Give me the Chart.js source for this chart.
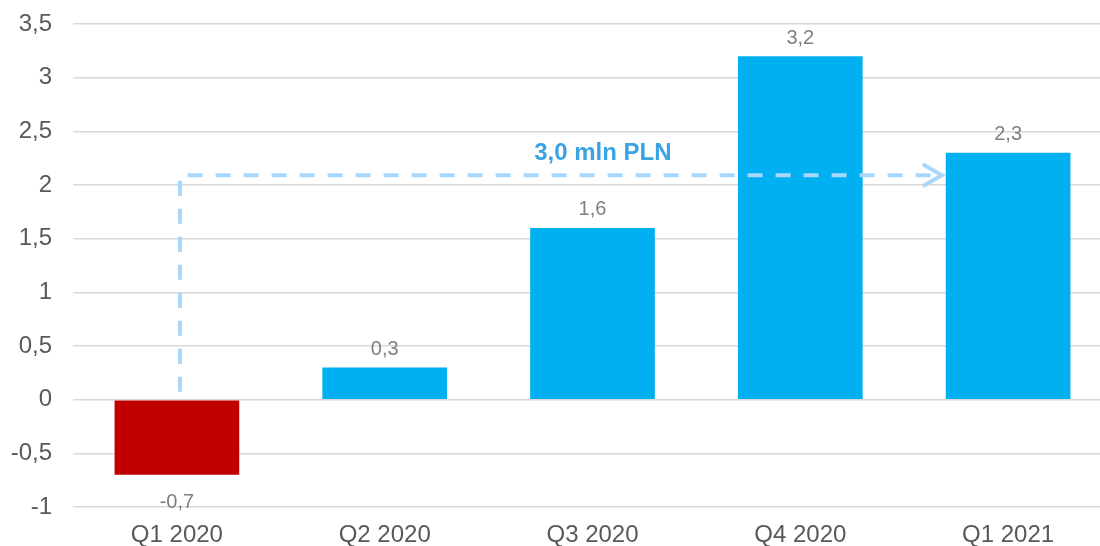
<!DOCTYPE html>
<html>
<head>
<meta charset="utf-8">
<script src="https://cdn.jsdelivr.net/npm/chart.js@4.4.1/dist/chart.umd.min.js"></script>
<style>
  html, body { margin: 0; padding: 0; background: #fff; }
  #clip { width: 1100px; height: 546px; overflow: hidden; }
  #wrap { width: 1112px; height: 546px; }
</style>
</head>
<body>
<div id="clip"><div id="wrap"><canvas id="resultChart"></canvas></div></div>
<script>
// Quarterly result, mln PLN
var quarters = ['Q1 2020', 'Q2 2020', 'Q3 2020', 'Q4 2020', 'Q1 2021'];
var results = [-0.7, 0.3, 1.6, 3.2, 2.3];
var changeLabel = '3,0 mln PLN';
var changeLevel = 2.09;

var FONT = '"Liberation Sans", Arial, sans-serif';

function fmt(v) { return String(v).replace('.', ','); }

// value labels above / below each bar
var valueLabels = {
  id: 'valueLabels',
  afterDatasetsDraw: function(chart) {
    var ctx = chart.ctx;
    var meta = chart.getDatasetMeta(0);
    ctx.save();
    ctx.font = '20px ' + FONT;
    ctx.fillStyle = '#7f7f7f';
    ctx.textAlign = 'center';
    ctx.textBaseline = 'middle';
    meta.data.forEach(function(bar, i) {
      var v = results[i];
      var y = v >= 0 ? bar.y - 18 : bar.y + 28;
      ctx.fillText(fmt(v.toFixed(1)), bar.x, y);
    });
    ctx.restore();
  }
};

// dashed arrow from first quarter to the last one
var changeArrow = {
  id: 'changeArrow',
  afterDatasetsDraw: function(chart) {
    var ctx = chart.ctx;
    var meta = chart.getDatasetMeta(0);
    var y = chart.scales.y;
    var first = meta.data[0], last = meta.data[meta.data.length - 1];
    var x0 = first.x + 3;
    var x1 = last.x - last.width / 2 - 4;
    var yTop = y.getPixelForValue(changeLevel);
    var yBase = y.getPixelForValue(0) - 8;
    ctx.save();
    ctx.strokeStyle = '#a9d6fb';
    ctx.lineWidth = 4;
    ctx.setLineDash([15, 13]);
    ctx.beginPath();
    ctx.moveTo(x0, yBase);
    ctx.lineTo(x0, yTop);
    ctx.lineTo(x1 - 4, yTop);
    ctx.stroke();
    ctx.setLineDash([]);
    ctx.beginPath();
    ctx.moveTo(x1 - 19, yTop - 11);
    ctx.lineTo(x1, yTop);
    ctx.lineTo(x1 - 19, yTop + 11);
    ctx.stroke();
    ctx.font = 'bold 24px ' + FONT;
    ctx.fillStyle = '#3aa3e3';
    ctx.textAlign = 'center';
    ctx.textBaseline = 'middle';
    ctx.fillText(changeLabel, (x0 + x1) / 2 + 42, yTop - 22);
    ctx.restore();
  }
};

new Chart(document.getElementById('resultChart'), {
  type: 'bar',
  data: {
    labels: quarters,
    datasets: [{
      data: results,
      backgroundColor: results.map(function(v) { return v < 0 ? '#c00000' : '#00b0f0'; }),
      categoryPercentage: 1,
      barPercentage: 0.6
    }]
  },
  options: {
    responsive: true, maintainAspectRatio: false, animation: false,
    layout: { padding: { top: 24, right: 0, bottom: 0, left: 0 } },
    plugins: { legend: { display: false }, tooltip: { enabled: false } },
    scales: {
      x: {
        afterFit: function(s) { s.height = 39; },
        grid: { display: false, drawTicks: false },
        border: { display: false },
        ticks: { color: '#595959', font: { size: 24, family: FONT }, padding: 14 }
      },
      y: {
        min: -1, max: 3.5,
        afterFit: function(s) { s.width = 73; s.paddingTop = 0; s.paddingBottom = 0; },
        grid: { color: '#d9d9d9', lineWidth: 1.5, drawTicks: false },
        border: { display: false },
        ticks: {
          stepSize: 0.5, padding: 21, color: '#595959',
          font: { size: 24, family: FONT },
          callback: function(v) { return fmt(v); }
        }
      }
    }
  },
  plugins: [valueLabels, changeArrow]
});
</script>
</body>
</html>
